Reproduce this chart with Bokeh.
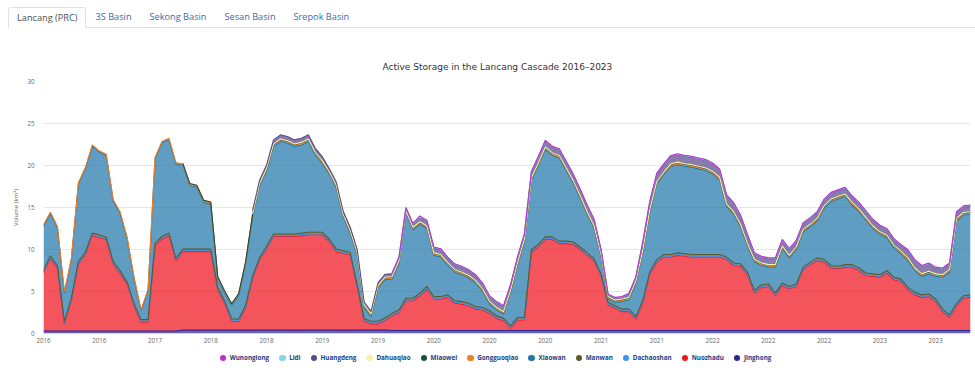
import numpy as np
from bokeh.plotting import figure
from bokeh.models import ColumnDataSource, Range1d, FixedTicker, Div
from bokeh.layouts import column
from bokeh.embed import file_html
from bokeh.resources import INLINE

NA = float("nan")   # plant not reported yet

# ---------------- data (active storage, km3) ----------------
week = list(range(0, 400, 3))

tick_pos = [0, 24, 48, 72, 96, 120, 144, 168, 192, 216, 240, 264, 288, 312, 336, 360, 384]
tick_labels = ["2016", "2016", "2017", "2018", "2018", "2019", "2019", "2020", "2020",
               "2020", "2021", "2021", "2022", "2022", "2022", "2023", "2023"]

tab_names = ["Lancang (PRC)", "3S Basin", "Sekong Basin", "Sesan Basin", "Srepok Basin"]

jinghong = [0.3, 0.3, 0.3, 0.3, 0.3, 0.3, 0.3, 0.3, 0.3, 0.3,
            0.3, 0.3, 0.3, 0.3, 0.3, 0.3, 0.3, 0.3, 0.3, 0.3,
            0.4, 0.4, 0.4, 0.4, 0.4, 0.4, 0.4, 0.4, 0.4, 0.4,
            0.4, 0.4, 0.4, 0.4, 0.4, 0.4, 0.4, 0.4, 0.4, 0.4,
            0.4, 0.4, 0.4, 0.4, 0.4, 0.4, 0.4, 0.4, 0.4, 0.4,
            0.35, 0.35, 0.35, 0.35, 0.35, 0.35, 0.35, 0.35, 0.35, 0.35,
            0.35, 0.35, 0.35, 0.35, 0.35, 0.35, 0.35, 0.35, 0.35, 0.35,
            0.35, 0.35, 0.35, 0.35, 0.35, 0.35, 0.35, 0.35, 0.35, 0.35,
            0.35, 0.35, 0.35, 0.35, 0.35, 0.35, 0.35, 0.35, 0.35, 0.35,
            0.35, 0.35, 0.35, 0.35, 0.35, 0.35, 0.35, 0.35, 0.35, 0.35,
            0.35, 0.35, 0.35, 0.35, 0.35, 0.35, 0.35, 0.35, 0.35, 0.35,
            0.35, 0.35, 0.35, 0.35, 0.35, 0.35, 0.35, 0.35, 0.35, 0.35,
            0.35, 0.35, 0.35, 0.35, 0.35, 0.35, 0.35, 0.35, 0.35, 0.35,
            0.35, 0.35, 0.35, 0.35]

nuozhadu = [6.95, 8.65, 7.45, 0.85, 3.65, 7.95, 9.05, 11.35, 11.15, 10.85,
            7.95, 6.85, 5.55, 2.95, 1.05, 1.05, 10.15, 10.95, 11.35, 8.35,
            9.35, 9.35, 9.35, 9.35, 9.35, 4.75, 3.15, 1.05, 1.0, 2.65,
            6.15, 8.35, 9.65, 11.15, 11.15, 11.15, 11.15, 11.25, 11.35, 11.35,
            11.35, 10.55, 9.35, 9.15, 8.95, 5.15, 1.05, 0.75, 0.75, 1.15,
            1.75, 2.15, 3.55, 3.55, 4.15, 4.95, 3.75, 3.75, 3.95, 3.25,
            3.15, 2.95, 2.55, 2.45, 2.05, 1.45, 1.15, 0.25, 1.25, 1.25,
            9.35, 9.95, 10.85, 10.85, 10.35, 10.35, 10.25, 9.65, 8.95, 8.25,
            6.45, 3.05, 2.65, 2.25, 2.25, 1.35, 3.35, 6.75, 8.15, 8.75,
            8.75, 8.95, 8.85, 8.75, 8.75, 8.75, 8.75, 8.75, 8.45, 7.75,
            7.65, 6.65, 4.45, 5.15, 5.25, 4.15, 5.35, 4.95, 5.25, 7.25,
            7.85, 8.35, 8.15, 7.45, 7.35, 7.55, 7.55, 7.15, 6.55, 6.45,
            6.35, 6.85, 6.05, 5.85, 4.85, 4.25, 3.95, 4.05, 3.45, 2.25,
            1.55, 2.95, 3.85, 3.95]

dachaoshan = [0.1, 0.1, 0.1, 0.1, 0.1, 0.1, 0.1, 0.1, 0.1, 0.1,
              0.1, 0.1, 0.1, 0.1, 0.1, 0.1, 0.1, 0.1, 0.1, 0.1,
              0.1, 0.1, 0.1, 0.1, 0.1, 0.1, 0.1, 0.1, 0.1, 0.1,
              0.1, 0.1, 0.1, 0.1, 0.1, 0.1, 0.1, 0.1, 0.1, 0.1,
              0.1, 0.1, 0.1, 0.1, 0.1, 0.1, 0.1, 0.1, 0.1, 0.1,
              0.1, 0.1, 0.1, 0.1, 0.1, 0.1, 0.1, 0.1, 0.1, 0.1,
              0.1, 0.1, 0.1, 0.1, 0.1, 0.1, 0.1, 0.1, 0.1, 0.1,
              0.1, 0.1, 0.1, 0.1, 0.1, 0.1, 0.1, 0.1, 0.1, 0.1,
              0.1, 0.1, 0.1, 0.1, 0.1, 0.1, 0.1, 0.1, 0.1, 0.1,
              0.1, 0.1, 0.1, 0.1, 0.1, 0.1, 0.1, 0.1, 0.1, 0.1,
              0.1, 0.1, 0.1, 0.1, 0.1, 0.1, 0.1, 0.1, 0.1, 0.1,
              0.1, 0.1, 0.1, 0.1, 0.1, 0.1, 0.1, 0.1, 0.1, 0.1,
              0.1, 0.1, 0.1, 0.1, 0.1, 0.1, 0.1, 0.1, 0.1, 0.1,
              0.1, 0.1, 0.1, 0.1]

manwan = [0.2, 0.2, 0.2, 0.2, 0.2, 0.2, 0.2, 0.2, 0.2, 0.2,
          0.2, 0.2, 0.2, 0.2, 0.2, 0.2, 0.2, 0.2, 0.2, 0.2,
          0.2, 0.2, 0.2, 0.2, 0.2, 0.2, 0.2, 0.2, 0.2, 0.2,
          0.2, 0.2, 0.2, 0.2, 0.2, 0.2, 0.2, 0.2, 0.2, 0.2,
          0.2, 0.2, 0.2, 0.2, 0.2, 0.2, 0.2, 0.2, 0.2, 0.2,
          0.2, 0.2, 0.2, 0.2, 0.2, 0.2, 0.2, 0.2, 0.2, 0.2,
          0.2, 0.2, 0.2, 0.2, 0.2, 0.2, 0.2, 0.2, 0.2, 0.2,
          0.2, 0.2, 0.2, 0.2, 0.2, 0.2, 0.2, 0.2, 0.2, 0.2,
          0.2, 0.2, 0.2, 0.2, 0.2, 0.2, 0.2, 0.2, 0.2, 0.2,
          0.2, 0.2, 0.2, 0.2, 0.2, 0.2, 0.2, 0.2, 0.2, 0.2,
          0.2, 0.2, 0.2, 0.2, 0.2, 0.2, 0.2, 0.2, 0.2, 0.2,
          0.2, 0.2, 0.2, 0.2, 0.2, 0.2, 0.2, 0.2, 0.2, 0.2,
          0.2, 0.2, 0.2, 0.2, 0.2, 0.2, 0.2, 0.2, 0.2, 0.2,
          0.2, 0.2, 0.2, 0.2]

xiaowan = [5.25, 5.05, 4.55, 3.35, 4.55, 9.25, 9.95, 10.35, 9.85, 9.75,
           7.25, 6.85, 5.15, 2.95, 1.05, 3.45, 10.05, 11.15, 11.15, 11.25,
           9.95, 7.55, 7.35, 5.55, 5.35, 1.05, 0.95, 1.55, 2.8, 4.95,
           7.1, 8.5, 9.0, 10.4, 11.0, 10.8, 10.4, 10.5, 10.8, 9.2,
           8.2, 7.7, 7.3, 4.0, 2.3, 3.5, 1.35, 0.55, 3.95, 4.55,
           4.05, 5.55, 10.05, 8.15, 8.2, 6.9, 4.9, 4.7, 3.5, 3.4,
           3.2, 3.0, 2.8, 1.9, 0.8, 0.7, 0.5, 3.9, 6.2, 9.0,
           8.2, 9.4, 10.4, 9.7, 9.9, 8.4, 7.0, 5.8, 4.6, 3.6,
           2.0, 0.4, 0.4, 0.9, 1.1, 4.0, 5.7, 7.1, 9.0, 9.5,
           10.5, 10.5, 10.4, 10.4, 10.2, 10.0, 9.6, 8.9, 6.0, 5.8,
           4.4, 3.1, 3.4, 2.3, 2.0, 3.1, 4.1, 3.4, 4.1, 4.2,
           4.2, 4.4, 6.1, 7.6, 8.0, 8.1, 7.1, 6.7, 6.3, 5.4,
           4.8, 3.9, 3.5, 3.0, 3.2, 2.6, 2.2, 2.4, 2.7, 3.8,
           5.1, 9.8, 9.6, 9.6]

gongguoqiao = [0.15, 0.15, 0.15, 0.15, 0.15, 0.15, 0.15, 0.15, 0.15, 0.15,
               0.15, 0.15, 0.15, 0.15, 0.15, 0.15, 0.15, 0.15, 0.15, 0.15,
               0.15, 0.15, 0.15, 0.15, 0.15, 0.15, 0.15, 0.15, 0.15, 0.15,
               0.15, 0.15, 0.15, 0.15, 0.15, 0.15, 0.15, 0.15, 0.15, 0.15,
               0.15, 0.15, 0.15, 0.15, 0.15, 0.15, 0.15, 0.15, 0.15, 0.15,
               0.15, 0.15, 0.15, 0.15, 0.15, 0.15, 0.15, 0.15, 0.15, 0.15,
               0.15, 0.15, 0.15, 0.15, 0.15, 0.15, 0.15, 0.15, 0.15, 0.15,
               0.15, 0.15, 0.15, 0.15, 0.15, 0.15, 0.15, 0.15, 0.15, 0.15,
               0.15, 0.15, 0.15, 0.15, 0.15, 0.15, 0.15, 0.15, 0.15, 0.15,
               0.15, 0.15, 0.15, 0.15, 0.15, 0.15, 0.15, 0.15, 0.15, 0.15,
               0.15, 0.15, 0.15, 0.15, 0.15, 0.15, 0.15, 0.15, 0.15, 0.15,
               0.15, 0.15, 0.15, 0.15, 0.15, 0.15, 0.15, 0.15, 0.15, 0.15,
               0.15, 0.15, 0.15, 0.15, 0.15, 0.15, 0.15, 0.15, 0.15, 0.15,
               0.15, 0.15, 0.15, 0.15]

miaowei = [NA, NA, NA, NA, NA, NA, NA, NA, NA, NA,
           NA, NA, NA, NA, NA, NA, NA, NA, NA, NA,
           0.1, 0.1, 0.1, 0.1, 0.1, 0.1, 0.1, 0.1, 0.1, 0.1,
           0.1, 0.1, 0.1, 0.1, 0.1, 0.1, 0.1, 0.1, 0.1, 0.1,
           0.1, 0.1, 0.1, 0.1, 0.1, 0.1, 0.1, 0.1, 0.1, 0.1,
           0.1, 0.1, 0.1, 0.1, 0.1, 0.1, 0.1, 0.1, 0.1, 0.1,
           0.1, 0.1, 0.1, 0.1, 0.1, 0.1, 0.1, 0.1, 0.1, 0.1,
           0.1, 0.1, 0.1, 0.1, 0.1, 0.1, 0.1, 0.1, 0.1, 0.1,
           0.1, 0.1, 0.1, 0.1, 0.1, 0.1, 0.1, 0.1, 0.1, 0.1,
           0.1, 0.1, 0.1, 0.1, 0.1, 0.1, 0.1, 0.1, 0.1, 0.1,
           0.1, 0.1, 0.1, 0.1, 0.1, 0.1, 0.1, 0.1, 0.1, 0.1,
           0.1, 0.1, 0.1, 0.1, 0.1, 0.1, 0.1, 0.1, 0.1, 0.1,
           0.1, 0.1, 0.1, 0.1, 0.1, 0.1, 0.1, 0.1, 0.1, 0.1,
           0.1, 0.1, 0.1, 0.1]

dahuaqiao = [NA, NA, NA, NA, NA, NA, NA, NA, NA, NA,
             NA, NA, NA, NA, NA, NA, NA, NA, NA, NA,
             NA, NA, NA, NA, NA, NA, NA, NA, NA, NA,
             0.05, 0.05, 0.05, 0.05, 0.05, 0.05, 0.05, 0.05, 0.05, 0.05,
             0.05, 0.05, 0.05, 0.05, 0.05, 0.05, 0.05, 0.05, 0.05, 0.05,
             0.05, 0.05, 0.05, 0.05, 0.05, 0.05, 0.05, 0.05, 0.05, 0.05,
             0.05, 0.05, 0.05, 0.05, 0.05, 0.05, 0.05, 0.05, 0.05, 0.05,
             0.05, 0.05, 0.05, 0.05, 0.05, 0.05, 0.05, 0.05, 0.05, 0.05,
             0.05, 0.05, 0.05, 0.05, 0.05, 0.05, 0.05, 0.05, 0.05, 0.05,
             0.05, 0.05, 0.05, 0.05, 0.05, 0.05, 0.05, 0.05, 0.05, 0.05,
             0.05, 0.05, 0.05, 0.05, 0.05, 0.05, 0.05, 0.05, 0.05, 0.05,
             0.05, 0.05, 0.05, 0.05, 0.05, 0.05, 0.05, 0.05, 0.05, 0.05,
             0.05, 0.05, 0.05, 0.05, 0.05, 0.05, 0.05, 0.05, 0.05, 0.05,
             0.05, 0.05, 0.05, 0.05]

huangdeng = [NA, NA, NA, NA, NA, NA, NA, NA, NA, NA,
             NA, NA, NA, NA, NA, NA, NA, NA, NA, NA,
             NA, NA, NA, NA, NA, NA, NA, NA, NA, NA,
             0.4, 0.4, 0.4, 0.5, 0.5, 0.5, 0.5, 0.5, 0.5, 0.5,
             0.5, 0.4, 0.4, 0.4, 0.4, 0.4, 0.35, 0.35, 0.35, 0.35,
             0.35, 0.35, 0.35, 0.35, 0.6, 0.6, 0.6, 0.6, 0.6, 0.6,
             0.6, 0.6, 0.6, 0.6, 0.6, 0.6, 0.6, 0.6, 0.6, 0.6,
             0.7, 0.7, 0.7, 0.7, 0.7, 0.7, 0.7, 0.7, 0.7, 0.7,
             0.5, 0.2, 0.2, 0.2, 0.4, 0.4, 0.9, 0.9, 0.9, 0.9,
             0.9, 0.9, 0.9, 0.9, 0.9, 0.9, 0.9, 0.9, 1.0, 1.0,
             1.0, 1.0, 0.7, 0.7, 0.7, 0.7, 0.7, 0.7, 0.7, 0.7,
             0.7, 0.7, 0.7, 0.7, 0.7, 0.7, 0.7, 0.7, 0.7, 0.7,
             0.7, 0.7, 0.7, 0.7, 0.9, 0.9, 0.9, 0.9, 0.7, 0.7,
             0.7, 0.7, 0.7, 0.7]

lidi = [NA, NA, NA, NA, NA, NA, NA, NA, NA, NA,
        NA, NA, NA, NA, NA, NA, NA, NA, NA, NA,
        NA, NA, NA, NA, NA, NA, NA, NA, NA, NA,
        NA, NA, NA, NA, NA, NA, NA, NA, NA, NA,
        NA, NA, NA, NA, NA, NA, NA, NA, NA, NA,
        0.05, 0.05, 0.05, 0.05, 0.05, 0.05, 0.05, 0.05, 0.05, 0.05,
        0.05, 0.05, 0.05, 0.05, 0.05, 0.05, 0.05, 0.05, 0.05, 0.05,
        0.05, 0.05, 0.05, 0.05, 0.05, 0.05, 0.05, 0.05, 0.05, 0.05,
        0.05, 0.05, 0.05, 0.05, 0.05, 0.05, 0.05, 0.05, 0.05, 0.05,
        0.05, 0.05, 0.05, 0.05, 0.05, 0.05, 0.05, 0.05, 0.05, 0.05,
        0.05, 0.05, 0.05, 0.05, 0.05, 0.05, 0.05, 0.05, 0.05, 0.05,
        0.05, 0.05, 0.05, 0.05, 0.05, 0.05, 0.05, 0.05, 0.05, 0.05,
        0.05, 0.05, 0.05, 0.05, 0.05, 0.05, 0.05, 0.05, 0.05, 0.05,
        0.05, 0.05, 0.05, 0.05]

wunonglong = [NA, NA, NA, NA, NA, NA, NA, NA, NA, NA,
              NA, NA, NA, NA, NA, NA, NA, NA, NA, NA,
              NA, NA, NA, NA, NA, NA, NA, NA, NA, NA,
              NA, NA, NA, NA, NA, NA, NA, NA, NA, NA,
              NA, NA, NA, NA, NA, NA, NA, NA, NA, NA,
              0.05, 0.05, 0.05, 0.05, 0.05, 0.05, 0.05, 0.05, 0.05, 0.05,
              0.05, 0.05, 0.05, 0.05, 0.05, 0.05, 0.05, 0.05, 0.05, 0.05,
              0.05, 0.05, 0.05, 0.05, 0.05, 0.05, 0.05, 0.05, 0.05, 0.05,
              0.05, 0.05, 0.05, 0.05, 0.05, 0.05, 0.05, 0.05, 0.05, 0.05,
              0.05, 0.05, 0.05, 0.05, 0.05, 0.05, 0.05, 0.05, 0.05, 0.05,
              0.05, 0.05, 0.05, 0.05, 0.05, 0.05, 0.05, 0.05, 0.05, 0.05,
              0.05, 0.05, 0.05, 0.05, 0.05, 0.05, 0.05, 0.05, 0.05, 0.05,
              0.05, 0.05, 0.05, 0.05, 0.05, 0.05, 0.05, 0.05, 0.05, 0.05,
              0.05, 0.05, 0.05, 0.05]

# stacking order bottom -> top
stack_names = ["Jinghong", "Nuozhadu", "Dachaoshan", "Manwan", "Xiaowan", "Gongguoqiao",
               "Miaowei", "Dahuaqiao", "Huangdeng", "Lidi", "Wunonglong"]
stack_values = [jinghong, nuozhadu, dachaoshan, manwan, xiaowan, gongguoqiao,
                miaowei, dahuaqiao, huangdeng, lidi, wunonglong]
stack_colors = ["#2b2597", "#f0141e", "#3894f0", "#5e5a28", "#2178aa", "#f57c1f",
                "#1b4d43", "#f4f4ac", "#5b4a8c", "#86d3ea", "#bf2fd0"]

legend_order = ["Wunonglong", "Lidi", "Huangdeng", "Dahuaqiao", "Miaowei", "Gongguoqiao",
                "Xiaowan", "Manwan", "Dachaoshan", "Nuozhadu", "Jinghong"]

# ---------------- tabs (top strip) ----------------
tab_html = []
for i, t in enumerate(tab_names):
    if i == 0:
        tab_html.append(
            '<div style="height:21px;line-height:20px;padding:0 8px;border:1px solid #dee2e6;'
            'border-bottom-color:#ffffff;border-radius:3px 3px 0 0;margin-bottom:-1px;'
            'color:#495057;background:#ffffff;box-sizing:border-box;">%s</div>' % t)
    else:
        tab_html.append('<div style="line-height:20px;padding:0 9px;color:#3d6ab0;">%s</div>' % t)
tabs = Div(text=('<div style="padding:7px 0 0 8px;box-sizing:border-box;width:975px;height:36px;">'
                 '<div style="display:flex;align-items:flex-end;border-bottom:1px solid #dee2e6;'
                 'height:21px;font-family:\'Open Sans\',sans-serif;font-size:9.2px;white-space:nowrap;">'
                 + "".join(tab_html) + '</div></div>'),
           width=975, height=36, margin=(0, 0, 0, 0))

# ---------------- figure ----------------
# areas: a plant that is not reported yet contributes nothing; lines: not drawn there
area_names = [n + "_area" for n in stack_names]
data = {"x": week}
for n, an, v in zip(stack_names, area_names, stack_values):
    arr = np.array(v, dtype=float)
    data[n] = arr
    data[an] = np.nan_to_num(arr, nan=0.0)
src = ColumnDataSource(data)

p = figure(width=975, height=313, output_backend="svg", toolbar_location=None,
           x_range=Range1d(0, 399), y_range=Range1d(0, 30),
           min_border_left=43, min_border_right=5, min_border_top=45, min_border_bottom=16,
           margin=(0, 0, 0, 0))
p.outline_line_color = None
p.background_fill_color = "white"
p.border_fill_color = "white"

p.varea_stack(stackers=area_names, x="x", color=stack_colors, fill_alpha=0.72, source=src)
p.vline_stack(stackers=stack_names, x="x", color=stack_colors, line_width=1.1, source=src)

p.title.text = "Active Storage in the Lancang Cascade 2016\u20132023"
p.title.align = "left"
p.title.offset = 339
p.title.text_font = "DejaVu Sans"
p.title.text_font_size = "9px"
p.title.text_font_style = "normal"
p.title.text_color = "#333333"
p.title.standoff = 19

p.xaxis.ticker = FixedTicker(ticks=tick_pos)
p.xaxis.major_label_overrides = {t: l for t, l in zip(tick_pos, tick_labels)}
p.xaxis.major_label_text_font = "Open Sans"
p.xaxis.major_label_text_font_size = "6.2px"
p.xaxis.major_label_text_color = "#666666"
p.xaxis.axis_line_color = "#ccd6eb"
p.xaxis.major_tick_line_color = None
p.xaxis.minor_tick_line_color = None
p.xaxis.major_tick_out = 0
p.xaxis.major_tick_in = 0
p.xaxis.minor_tick_out = 0
p.xaxis.major_label_standoff = 4

p.yaxis.ticker = FixedTicker(ticks=[0, 5, 10, 15, 20, 25, 30])
p.yaxis.major_label_text_font = "Open Sans"
p.yaxis.major_label_text_font_size = "6.2px"
p.yaxis.major_label_text_color = "#666666"
p.yaxis.axis_line_color = None
p.yaxis.major_tick_line_color = None
p.yaxis.minor_tick_line_color = None
p.yaxis.major_tick_out = 0
p.yaxis.major_tick_in = 0
p.yaxis.minor_tick_out = 0
p.yaxis.major_label_standoff = 9
p.yaxis.axis_label = "Volume (km\u00b3)"
p.yaxis.axis_label_text_font = "Open Sans"
p.yaxis.axis_label_text_font_size = "6px"
p.yaxis.axis_label_text_font_style = "normal"
p.yaxis.axis_label_text_color = "#666666"
p.yaxis.axis_label_standoff = 4

p.xgrid.visible = False
p.ygrid.grid_line_color = "#e6e6e6"
p.ygrid.grid_line_width = 1

# ---------------- legend strip (below the chart) ----------------
color_of = dict(zip(stack_names, stack_colors))
leg_html = []
for n in legend_order:
    leg_html.append(
        '<span style="display:inline-flex;align-items:center;margin:0 5px;">'
        '<span style="display:inline-block;width:6.5px;height:6.5px;border-radius:50%%;'
        'background:%s;margin-right:3.5px;"></span>%s</span>' % (color_of[n], n))
legend_div = Div(text=('<div style="display:flex;justify-content:center;align-items:center;'
                       'width:975px;height:17px;padding-left:16px;box-sizing:border-box;'
                       'font-family:\'Open Sans\',sans-serif;font-size:6.3px;font-weight:bold;'
                       'color:#22407e;white-space:nowrap;">' + "".join(leg_html) + '</div>'),
                 width=975, height=21, margin=(0, 0, 0, 0))

layout = column(tabs, p, legend_div, spacing=0, margin=(0, 0, 0, 0))
open("out.html", "w").write(file_html(layout, INLINE))
